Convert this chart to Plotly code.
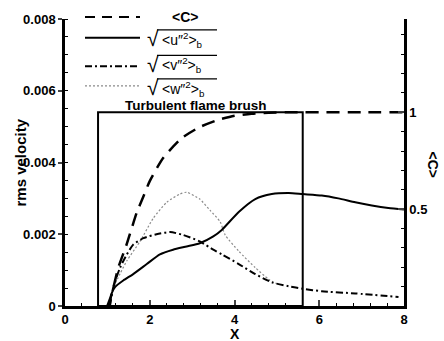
import plotly.graph_objects as go

# Mean progress variable <C> along X (right axis)
x_c = [1.0, 1.1, 1.18, 1.26, 1.45, 1.69, 1.85, 2.0, 2.32, 2.75, 3.18, 3.6, 4.0, 4.4, 4.8, 5.2, 5.6, 6.0, 7.0, 8.0]
c_mean = [0.0, 0.06, 0.13, 0.2, 0.315, 0.48, 0.565, 0.645, 0.765, 0.866, 0.924, 0.96, 0.982, 0.993, 0.998, 1.0, 1.0, 1.0, 1.0, 1.0]

# rms velocity components (left axis)
x_u = [1.06, 1.10, 1.18, 1.375, 1.61, 1.93, 2.24, 2.55, 2.87, 3.18, 3.50, 3.70, 4.10, 4.49, 4.88, 5.28, 5.61, 6.06, 6.45, 6.85, 7.24, 7.63, 8.0]
u_rms = [0.0, 0.00035, 0.00053, 0.00071, 0.00089, 0.00117, 0.00144, 0.00157, 0.00166, 0.00175, 0.00194, 0.00212,
         0.00262, 0.00298, 0.00312, 0.00315, 0.00312, 0.00308, 0.00300, 0.00289, 0.00280, 0.00273, 0.00269]

x_v = [1.06, 1.14, 1.30, 1.46, 1.61, 1.85, 2.16, 2.48, 2.79, 3.18, 3.50, 3.70, 4.10, 4.49, 4.88, 5.28, 5.61, 6.06, 6.85, 7.87]
v_rms = [0.0, 0.00053, 0.00107, 0.00144, 0.00171, 0.00189, 0.00200, 0.00206, 0.00198, 0.00180, 0.00157, 0.00144,
         0.00117, 0.00089, 0.00066, 0.00055, 0.00048, 0.00041, 0.00035, 0.00025]

x_w = [1.06, 1.14, 1.30, 1.46, 1.77, 2.08, 2.40, 2.71, 2.87, 3.18, 3.42, 3.66, 3.78, 4.10, 4.49, 4.80, 5.0]
w_rms = [0.0, 0.0005, 0.0009, 0.00126, 0.00180, 0.00244, 0.00289, 0.00312, 0.00317, 0.00298, 0.00267, 0.00235,
         0.00198, 0.00153, 0.00107, 0.00075, 0.00062]

# Extent of the turbulent flame brush in X
brush_x = [0.78, 5.61]

x_ticks = [0, 2, 4, 6, 8]
y_ticks = [0, 0.002, 0.004, 0.006, 0.008]
y_ticktext = ["0", "0.002", "0.004", "0.006", "0.008"]
c_ticks = [0.5, 1]

W, H = 444, 341
L, R, T, B = 65, 40, 14, 35
PW, PH = W - L - R, H - T - B
FONT = "Liberation Sans, Arial, sans-serif"


def px(xp):
    return (xp - L) / PW


def py(yp):
    return (T + PH - yp) / PH


fig = go.Figure()

fig.add_trace(go.Scatter(x=x_c, y=c_mean, yaxis="y2", mode="lines", line_shape="spline",
                         line=dict(color="black", width=2.5, dash="13px,8px", smoothing=0.6)))
fig.add_trace(go.Scatter(x=x_w, y=w_rms, mode="lines", line_shape="spline",
                         line=dict(color="#8a8a8a", width=1.2, dash="2px,2px", smoothing=0.6)))
fig.add_trace(go.Scatter(x=x_v, y=v_rms, mode="lines", line_shape="spline",
                         line=dict(color="black", width=2, dash="7px,3px,2px,3px", smoothing=0.6)))
fig.add_trace(go.Scatter(x=x_u, y=u_rms, mode="lines", line_shape="spline",
                         line=dict(color="black", width=2, smoothing=0.6)))

# flame brush box
fig.add_shape(type="rect", xref="x", yref="y2", x0=brush_x[0], x1=brush_x[1], y0=0, y1=1,
              line=dict(color="black", width=2))

bold = dict(family=FONT, size=13, color="black", weight="bold")


def note(text, xp, yp, font, angle=0, xanchor="center"):
    return dict(text=text, xref="paper", yref="paper", x=px(xp), y=py(yp), textangle=angle,
                xanchor=xanchor, yanchor="middle", showarrow=False, font=font)


annotations = [
    dict(text="Turbulent flame brush", xref="x", yref="y2", x=sum(brush_x) / 2 - 0.1, y=1,
         xanchor="center", yanchor="bottom", yshift=-3, showarrow=False, font=dict(bold, size=13.5)),
    note("rms velocity", 20, 160, dict(bold, size=15), angle=-90),
    note("X", 235, 334, dict(bold, size=14)),
    note("&lt;C&gt;", 433, 162, dict(bold, size=14), angle=90),
    note("&lt;C&gt;", 185, 12, dict(bold, size=14)),
]

# legend samples and labels
legend_rows = [
    (12, dict(color="black", width=2, dash="10px,7px")),
    (33, dict(color="black", width=2)),
    (62, dict(color="black", width=2, dash="7px,3px,2px,3px")),
    (82, dict(color="#8a8a8a", width=1.2, dash="2px,2px")),
]
for yp, ln in legend_rows:
    fig.add_shape(type="line", xref="paper", yref="paper", x0=px(85), x1=px(140), y0=py(yp), y1=py(yp),
                  line=ln)

labels = [("u", "b", 35), ("v", "b", 61), ("w", "b", 85)]
for comp, sub, yp in labels:
    annotations.append(note("√", 153, yp - 1, dict(family=FONT, size=21, color="black")))
    annotations.append(note(f"&lt;{comp}″<sup>2</sup>&gt;<sub>{sub}</sub>", 160, yp,
                            dict(family=FONT, size=14, color="black"), xanchor="left"))
    fig.add_shape(type="line", xref="paper", yref="paper", x0=px(157), x1=px(217),
                  y0=py(yp - 10), y1=py(yp - 10), line=dict(color="black", width=1.2))

fig.update_layout(
    width=W, height=H,
    margin=dict(l=L, r=R, t=T, b=B, pad=0),
    paper_bgcolor="white", plot_bgcolor="white",
    showlegend=False,
    font=dict(family=FONT, size=13, color="black"),
    annotations=annotations,
    xaxis=dict(range=[0, 8], tickvals=x_ticks, ticks="inside", ticklen=6, tickwidth=2,
               showline=True, linecolor="black", linewidth=2.5, showgrid=False, zeroline=False,
               tickfont=bold,
               minor=dict(dtick=0.4, ticks="inside", ticklen=3, tickwidth=1, tickcolor="black")),
    yaxis=dict(range=[0, 0.008], tickvals=y_ticks, ticktext=y_ticktext, ticks="outside", ticklen=4,
               tickwidth=2, showline=True, linecolor="black", linewidth=2.5, showgrid=False,
               zeroline=False, tickfont=bold,
               minor=dict(dtick=0.0005, ticks="inside", ticklen=3, tickwidth=1, tickcolor="black")),
    yaxis2=dict(range=[0, 1.482], overlaying="y", side="right", tickvals=c_ticks, ticktext=["0.5", "1"],
                ticks="inside", ticklen=6, tickwidth=2, showline=True, linecolor="black", linewidth=2.5,
                showgrid=False, zeroline=False, tickfont=bold,
                minor=dict(dtick=0.1, ticks="inside", ticklen=3, tickwidth=1, tickcolor="black")),
)

fig.write_html("out.html")
